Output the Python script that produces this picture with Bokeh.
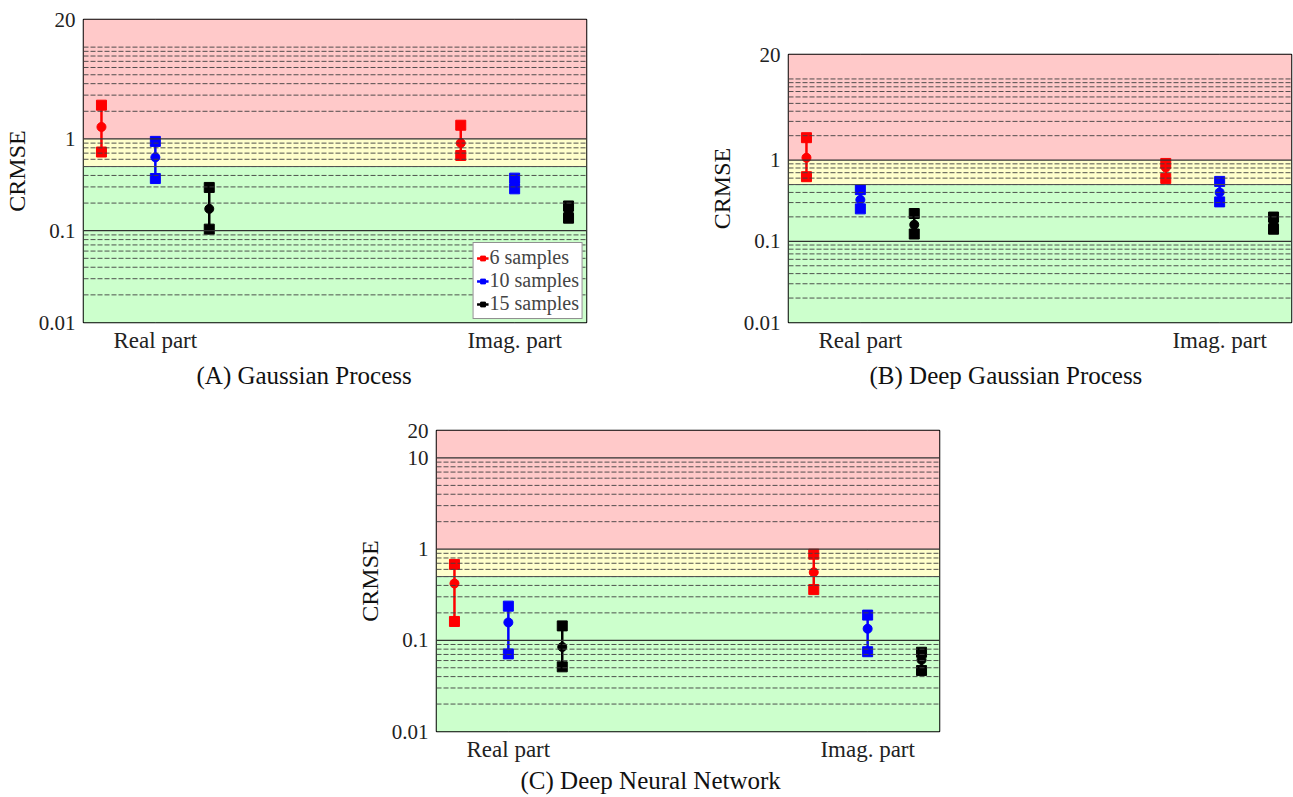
from bokeh.plotting import figure
from bokeh.layouts import column, row, Spacer
from bokeh.models import (Range1d, FixedTicker, CustomJSTickFormatter, Span, Title,
                          BoxAnnotation, Legend, LegendItem, ColumnDataSource)
from bokeh.embed import file_html
from bokeh.resources import INLINE

# ---- data -------------------------------------------------------------
parts = ["Real part", "Imag. part"]
samples = ["6 samples", "10 samples", "15 samples"]
colors = ["#ff0000", "#0000ff", "#000000"]
offsets = [-0.15, 0.0, 0.15]

# CRMSE per model: for each sample size, [real, imag] values
gp_low = {"6 samples": [0.72, 0.66], "10 samples": [0.37, 0.286], "15 samples": [0.104, 0.137]}
gp_mid = {"6 samples": [1.35, 0.90], "10 samples": [0.63, 0.33], "15 samples": [0.173, 0.16]}
gp_high = {"6 samples": [2.33, 1.41], "10 samples": [0.94, 0.374], "15 samples": [0.296, 0.186]}

dgp_low = {"6 samples": [0.625, 0.595], "10 samples": [0.251, 0.306], "15 samples": [0.123, 0.141]}
dgp_mid = {"6 samples": [1.07, 0.81], "10 samples": [0.324, 0.40], "15 samples": [0.16, 0.168]}
dgp_high = {"6 samples": [1.89, 0.91], "10 samples": [0.433, 0.547], "15 samples": [0.22, 0.199]}

dnn_low = {"6 samples": [0.161, 0.36], "10 samples": [0.071, 0.075], "15 samples": [0.0512, 0.0466]}
dnn_mid = {"6 samples": [0.42, 0.557], "10 samples": [0.157, 0.134], "15 samples": [0.0845, 0.061]}
dnn_high = {"6 samples": [0.68, 0.88], "10 samples": [0.237, 0.189], "15 samples": [0.144, 0.074]}

SERIF = "Liberation Serif"
RED_BAND = "#ffc9c9"
YELLOW_BAND = "#ffffcc"
GREEN_BAND = "#ccffcc"


def panel(title, low, mid, high, yticks, solid_lines, width, height,
          left, right, top, bottom, cap_offset, cap_standoff, legend=False):
    p = figure(width=width, height=height, y_axis_type="log",
               x_range=Range1d(0.8, 2.2), y_range=Range1d(0.01, 20),
               output_backend="svg", toolbar_location=None,
               min_border_left=left, min_border_right=right,
               min_border_top=top, min_border_bottom=bottom)
    p.background_fill_color = "white"
    p.outline_line_color = "black"
    p.outline_line_width = 1.5

    # colour bands
    p.add_layout(BoxAnnotation(bottom=1, top=20, fill_color=RED_BAND, fill_alpha=1, line_color=None, level="underlay"))
    p.add_layout(BoxAnnotation(bottom=0.5, top=1, fill_color=YELLOW_BAND, fill_alpha=1, line_color=None, level="underlay"))
    p.add_layout(BoxAnnotation(bottom=0.01, top=0.5, fill_color=GREEN_BAND, fill_alpha=1, line_color=None, level="underlay"))

    # minor (dashed) and decade (solid) horizontal lines
    for dec in [0.01, 0.1, 1]:
        for k in range(2, 11):
            v = dec * k
            if any(abs(v - s) < 1e-9 for s in solid_lines):
                continue
            p.add_layout(Span(location=v, dimension="width", line_color="#404040",
                              line_width=1, line_dash="5 2", line_alpha=0.9))
    for v in solid_lines:
        p.add_layout(Span(location=v, dimension="width", line_color="#303030", line_width=1.3))
    p.add_layout(Span(location=0.5, dimension="width", line_color="#505050", line_width=1))

    # axes
    p.ygrid.grid_line_color = None
    p.xgrid.grid_line_color = "#404040"
    p.xgrid.grid_line_width = 1.3
    p.xaxis.ticker = FixedTicker(ticks=[1, 2])
    p.xaxis.major_label_overrides = {1: parts[0], 2: parts[1]}
    p.yaxis.ticker = FixedTicker(ticks=yticks, minor_ticks=[])
    p.yaxis.formatter = CustomJSTickFormatter(code="return String(tick);")
    for ax in (p.xaxis[0], p.yaxis[0]):
        ax.axis_line_color = None
        ax.major_tick_line_color = None
        ax.minor_tick_line_color = None
        ax.major_tick_out = 0
        ax.major_tick_in = 0
        ax.minor_tick_out = 0
        ax.minor_tick_in = 0
        ax.major_label_text_font = SERIF
        ax.major_label_text_color = "#222222"
    p.xaxis.major_label_text_font_size = "23px"
    p.yaxis.major_label_text_font_size = "21px"
    p.xaxis.major_label_standoff = 5
    p.yaxis.major_label_standoff = 8
    p.yaxis.axis_label = "CRMSE"
    p.yaxis.axis_label_text_font = SERIF
    p.yaxis.axis_label_text_font_style = "normal"
    p.yaxis.axis_label_text_font_size = "24px"
    p.yaxis.axis_label_text_color = "#111111"
    p.yaxis.axis_label_standoff = 6

    # sub-figure caption below the axis
    p.add_layout(Title(text=title, align="left", offset=cap_offset, standoff=cap_standoff,
                       text_font=SERIF, text_font_size="25px", text_font_style="normal",
                       text_color="#111111"), "below")

    items = []
    for s, c, off in zip(samples, colors, offsets):
        src = ColumnDataSource(dict(x=[1 + off, 2 + off], lo=low[s], mid=mid[s], hi=high[s]))
        seg = p.segment(x0="x", y0="lo", x1="x", y1="hi", source=src, line_color=c, line_width=2.5)
        p.scatter(x="x", y="lo", source=src, marker="square", size=10, color=c)
        sq_hi = p.scatter(x="x", y="hi", source=src, marker="square", size=10, color=c)
        p.scatter(x="x", y="mid", source=src, marker="circle", size=9, color=c)
        items.append(LegendItem(label=s, renderers=[seg, sq_hi]))

    if legend:
        lg = Legend(items=items, location="bottom_right", label_text_font=SERIF,
                    label_text_font_size="20px", border_line_color="#222222",
                    border_line_width=1.2, background_fill_alpha=1,
                    glyph_width=12, glyph_height=14, label_standoff=1,
                    spacing=0, padding=3, margin=3, label_height=22)
        p.add_layout(lg)
    return p


pA = panel("(A) Gaussian Process", gp_low, gp_mid, gp_high, [0.01, 0.1, 1, 20],
           [0.1, 1], width=646, height=400, left=83, right=60, top=19, bottom=78,
           cap_offset=113, cap_standoff=8, legend=True)
pB = panel("(B) Deep Gaussian Process", dgp_low, dgp_mid, dgp_high, [0.01, 0.1, 1, 20],
           [0.1, 1], width=647, height=365, left=142, right=2, top=19, bottom=78,
           cap_offset=81, cap_standoff=8)
pC = panel("(C) Deep Neural Network", dnn_low, dnn_mid, dnn_high, [0.01, 0.1, 1, 10, 20],
           [0.1, 1, 10], width=1293, height=397, left=436, right=354, top=30, bottom=66,
           cap_offset=84, cap_standoff=0)

layout = column(row(pA, column(Spacer(width=647, height=35), pB)), pC)
open("out.html", "w").write(file_html(layout, INLINE))
